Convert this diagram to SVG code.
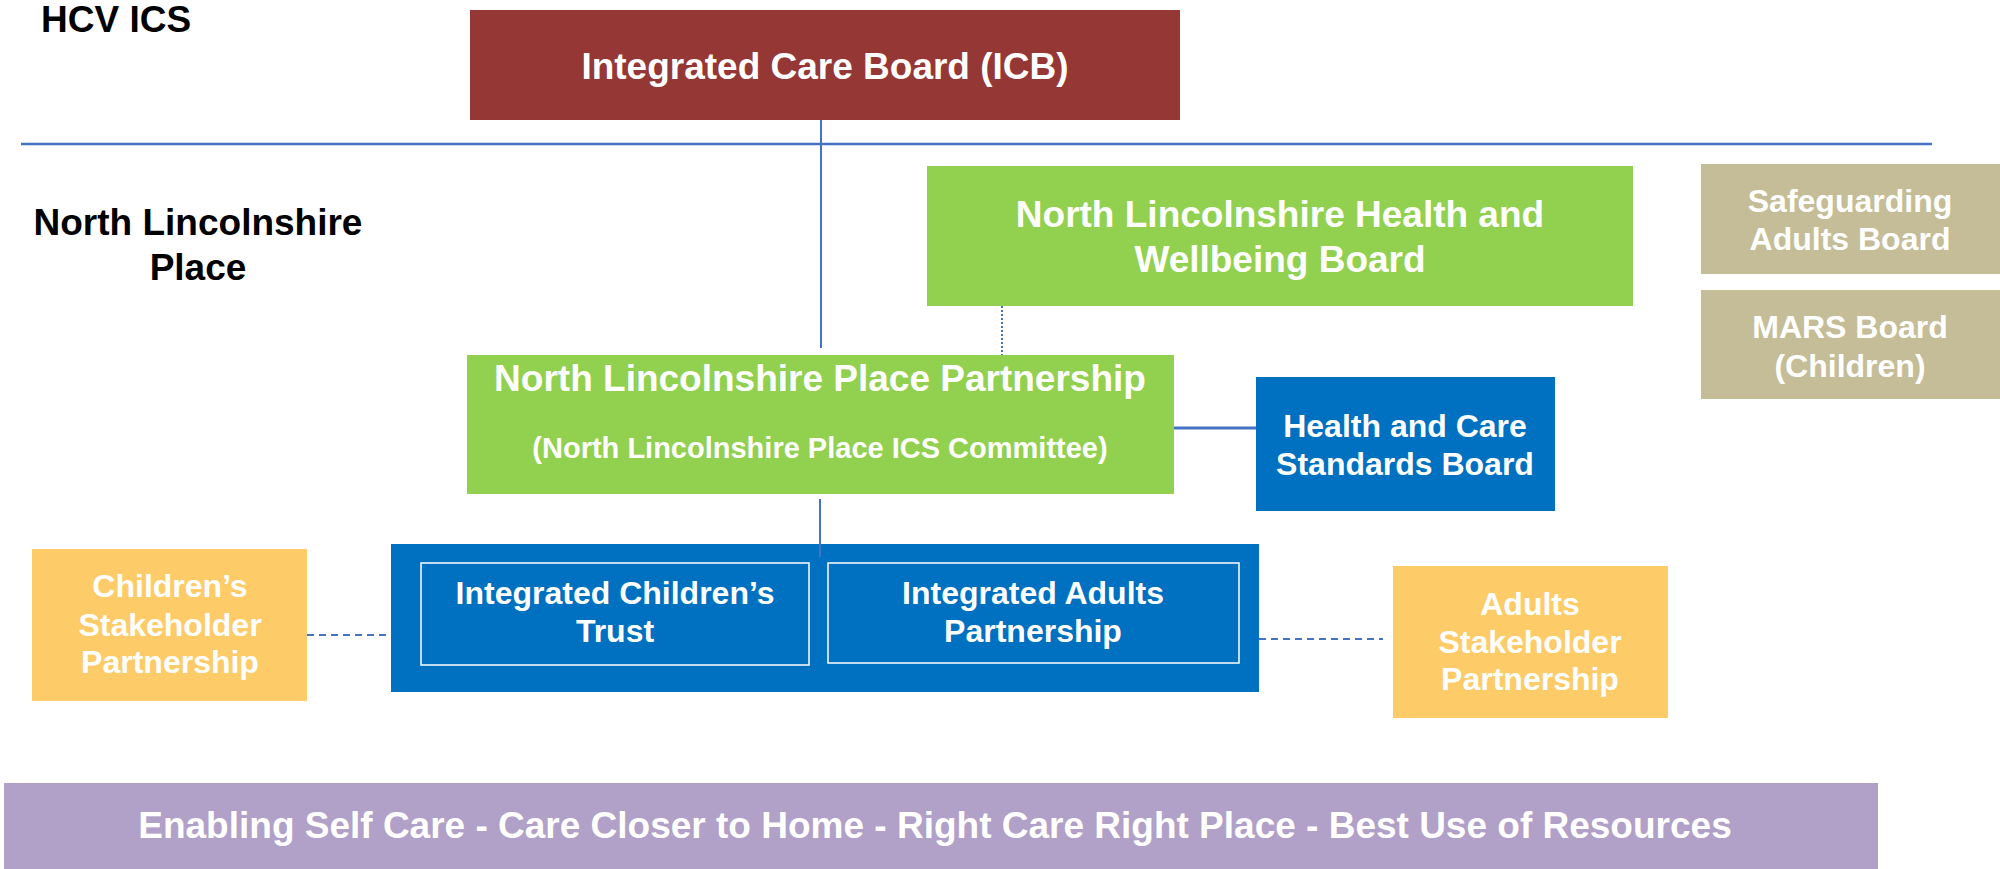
<svg xmlns="http://www.w3.org/2000/svg" width="2000" height="869" viewBox="0 0 2000 869">
<style>
text{font-family:"Liberation Sans",Arial,sans-serif;font-weight:bold;fill:#fff;text-anchor:middle}
.lbl{fill:#000}
.t37{font-size:37px}
.t32{font-size:32px}
.t29{font-size:29px}
.ln{stroke:#4472C4;stroke-width:2;fill:none}
.dot{stroke:#4472C4;stroke-width:2;stroke-dasharray:2 2;fill:none}
.dash{stroke:#4472C4;stroke-width:2;stroke-dasharray:7 5;fill:none}
.inner{fill:none;stroke:#fff;stroke-width:1.5}
</style>
<rect width="2000" height="869" fill="#fff"/>
<g id="labels">
<text class="lbl t37" x="41" y="32" style="text-anchor:start">HCV ICS</text>
<text class="lbl t37" x="198" y="235">North Lincolnshire</text>
<text class="lbl t37" x="198" y="280">Place</text>
</g>
<line id="divider" x1="21" y1="144" x2="1932" y2="144" stroke="#4472C4" stroke-width="2.5"/>
<g id="icb">
<rect x="470" y="10" width="710" height="110" fill="#953735"/>
<text class="t37" x="825" y="79">Integrated Care Board (ICB)</text>
</g>
<g id="hwb">
<rect x="927" y="166" width="706" height="140" fill="#92D050"/>
<text class="t37" x="1280" y="227">North Lincolnshire Health and</text>
<text class="t37" x="1280" y="272">Wellbeing Board</text>
</g>
<g id="safeguarding">
<rect x="1701" y="164" width="299" height="110" fill="#C4BD97"/>
<text class="t32" x="1850" y="212">Safeguarding</text>
<text class="t32" x="1850" y="250">Adults Board</text>
</g>
<g id="mars">
<rect x="1701" y="290" width="299" height="109" fill="#C4BD97"/>
<text class="t32" x="1850" y="338">MARS Board</text>
<text class="t32" x="1850" y="377">(Children)</text>
</g>
<g id="partnership">
<rect x="467" y="355" width="707" height="139" fill="#92D050"/>
<text class="t37" x="820" y="391">North Lincolnshire Place Partnership</text>
<text class="t29" x="820" y="458">(North Lincolnshire Place ICS Committee)</text>
</g>
<g id="hcsb">
<rect x="1256" y="377" width="299" height="134" fill="#0070C0"/>
<text class="t32" x="1405" y="437">Health and Care</text>
<text class="t32" x="1405" y="475">Standards Board</text>
</g>
<g id="integrated">
<rect x="391" y="544" width="868" height="148" fill="#0070C0"/>
<g id="ict">
<rect class="inner" x="421" y="563" width="388" height="102"/>
<text class="t32" x="615" y="604">Integrated Children’s</text>
<text class="t32" x="615" y="642">Trust</text>
</g>
<g id="iap">
<rect class="inner" x="828" y="563" width="411" height="100"/>
<text class="t32" x="1033" y="604">Integrated Adults</text>
<text class="t32" x="1033" y="642">Partnership</text>
</g>
</g>
<g id="csp">
<rect x="32" y="549" width="275" height="152" fill="#FECB69"/>
<text class="t32" x="170" y="597">Children’s</text>
<text class="t32" x="170" y="636">Stakeholder</text>
<text class="t32" x="170" y="673">Partnership</text>
</g>
<g id="asp">
<rect x="1393" y="566" width="275" height="152" fill="#FECB69"/>
<text class="t32" x="1530" y="615">Adults</text>
<text class="t32" x="1530" y="653">Stakeholder</text>
<text class="t32" x="1530" y="690">Partnership</text>
</g>
<g id="connectors">
<line class="ln" x1="821" y1="120" x2="821" y2="348"/>
<line class="dot" x1="1002" y1="306" x2="1002" y2="355"/>
<line x1="1174" y1="428" x2="1256" y2="428" stroke="#4472C4" stroke-width="3"/>
<line class="ln" x1="820" y1="499" x2="820" y2="557" stroke-width="1.5"/>
<line class="dash" x1="307" y1="635" x2="391" y2="635"/>
<line class="dash" x1="1259" y1="639" x2="1383" y2="639"/>
</g>
<g id="values">
<rect x="4" y="783" width="1874" height="86" fill="#B1A0C7"/>
<text class="t37" x="935" y="838">Enabling Self Care - Care Closer to Home - Right Care Right Place - Best Use of Resources</text>
</g>
</svg>
